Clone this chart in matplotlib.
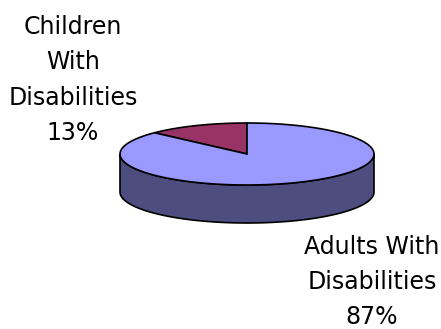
import numpy as np
import matplotlib.pyplot as plt
from matplotlib.patches import Polygon

# share of people with disabilities
categories = ['Children\nWith\nDisabilities', 'Adults With\nDisabilities']
shares = [13, 87]
top_colors = ['#993366', '#9999FF']
side_color = '#4D4D80'

# pie geometry in pixel units (y axis points down)
cx, cy = 247, 154
rx, ry = 127, 31
depth = 38

fig = plt.figure(figsize=(4.41, 3.29), dpi=100)
ax = fig.add_axes([0, 0, 1, 1])
ax.set_xlim(0, 441)
ax.set_ylim(329, 0)
ax.axis('off')


def rim(t0, t1, dy=0, n=200):
    t = np.radians(np.linspace(t0, t1, n))
    return np.column_stack([cx + rx * np.cos(t), cy - ry * np.sin(t) + dy])


# side wall (only the front half shows)
front_top = rim(180, 360)
front_bot = rim(360, 180, depth)
ax.add_patch(Polygon(np.vstack([front_top, front_bot]), closed=True,
                     facecolor=side_color, edgecolor='black', lw=1.2))

# top face slices, first slice starts at 12 o'clock going counter-clockwise
start = 90
for share, col in zip(shares, top_colors):
    sweep = share / sum(shares) * 360
    pts = np.vstack([[cx, cy], rim(start, start + sweep), [cx, cy]])
    ax.add_patch(Polygon(pts, closed=True, facecolor=col,
                         edgecolor='black', lw=1.2))
    start += sweep

font = dict(fontsize=17, family='DejaVu Sans', ha='center', va='center',
            linespacing=1.6, color='black')
ax.text(73, 80, f'{categories[0]}\n{shares[0]}%', **font)
ax.text(372, 282, f'{categories[1]}\n{shares[1]}%', **font)

fig.savefig('out.png', dpi=100)
